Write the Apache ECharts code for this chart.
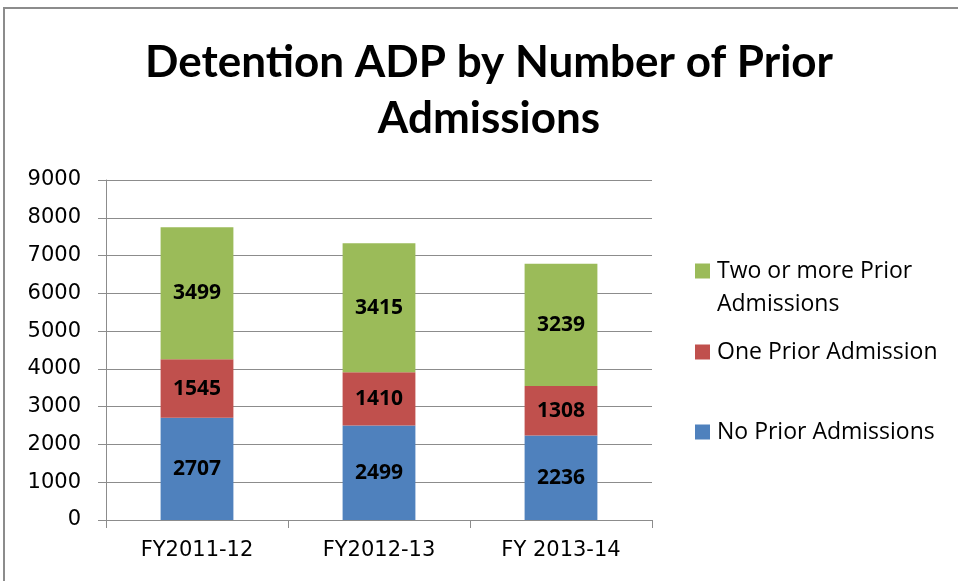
<!DOCTYPE html>
<html>
<head>
<meta charset="utf-8">
<script src="https://cdn.jsdelivr.net/npm/echarts@6/dist/echarts.min.js"></script>
<style>
  html, body { margin: 0; padding: 0; background: #fff; }
  #main { width: 958px; height: 581px; }
</style>
</head>
<body>
<div id="main"></div>
<script>
var categories = ['FY2011-12', 'FY2012-13', 'FY 2013-14'];
var noPrior = [2707, 2499, 2236];
var onePrior = [1545, 1410, 1308];
var twoOrMore = [3499, 3415, 3239];
var yTicks = [0, 1000, 2000, 3000, 4000, 5000, 6000, 7000, 8000, 9000];

var chart = echarts.init(document.getElementById('main'));

var labelStyle = {
  show: true,
  position: 'inside',
  color: '#000',
  fontFamily: 'Open Sans',
  fontWeight: 'bold',
  fontSize: 21
};

function legendAt(name, top, text) {
  return {
    data: [name],
    orient: 'vertical',
    left: 695,
    top: top,
    padding: 0,
    itemWidth: 15,
    itemHeight: 15,
    icon: 'rect',
    itemGap: 0,
    selectedMode: false,
    formatter: function () { return text; },
    textStyle: { fontFamily: 'Open Sans', fontSize: 23, color: '#000', lineHeight: 26, padding: [0, 0, 0, 2] }
  };
}

var option = {
  backgroundColor: '#fff',
  animation: false,
  title: {
    text: 'Detention ADP by Number of Prior\nAdmissions',
    left: 484,
    textAlign: 'center',
    top: 30,
    textStyle: { fontFamily: 'Lato', fontWeight: 'bold', fontSize: 44, color: '#000', lineHeight: 56 }
  },
  legend: [
    legendAt('Two or more Prior Admissions', 258, 'Two or more Prior'),
    legendAt('One Prior Admission', 339, 'One Prior Admission'),
    legendAt('No Prior Admissions', 419, 'No Prior Admissions')
  ],
  graphic: [
    {
      type: 'rect',
      shape: { x: 4, y: 8, width: 1000, height: 620 },
      style: { fill: 'none', stroke: '#8c8c8c', lineWidth: 2 },
      silent: true
    },
    {
      type: 'text',
      x: 717,
      y: 304,
      style: { text: 'Admissions', fontFamily: 'Open Sans', fontSize: 23, fill: '#000', verticalAlign: 'middle' },
      silent: true
    }
  ],
  grid: { left: 106, right: 306, top: 180, bottom: 61 },
  xAxis: {
    type: 'category',
    data: categories,
    axisLine: { lineStyle: { color: '#8c8c8c', width: 1 } },
    axisTick: { show: true, length: 8, lineStyle: { color: '#8c8c8c' } },
    axisLabel: { color: '#000', fontFamily: 'DejaVu Sans', fontSize: 21, margin: 20 }
  },
  yAxis: {
    type: 'value',
    min: yTicks[0],
    max: yTicks[yTicks.length - 1],
    interval: 1000,
    axisLine: { show: true, lineStyle: { color: '#8c8c8c', width: 1 } },
    axisTick: { show: true, length: 8, lineStyle: { color: '#8c8c8c' } },
    splitLine: { lineStyle: { color: '#8c8c8c', width: 1 } },
    axisLabel: {
      color: '#000', fontFamily: 'DejaVu Sans', fontSize: 21, margin: 25,
      formatter: function (v) { return String(v); }
    }
  },
  series: [
    {
      name: 'No Prior Admissions',
      type: 'bar',
      stack: 'total',
      barWidth: '40%',
      data: noPrior,
      itemStyle: { color: '#4f81bd' },
      label: labelStyle
    },
    {
      name: 'One Prior Admission',
      type: 'bar',
      stack: 'total',
      barWidth: '40%',
      data: onePrior,
      itemStyle: { color: '#c0504d' },
      label: labelStyle
    },
    {
      name: 'Two or more Prior Admissions',
      type: 'bar',
      stack: 'total',
      barWidth: '40%',
      data: twoOrMore,
      itemStyle: { color: '#9bbb59' },
      label: labelStyle
    }
  ]
};

chart.setOption(option);
</script>
</body>
</html>
